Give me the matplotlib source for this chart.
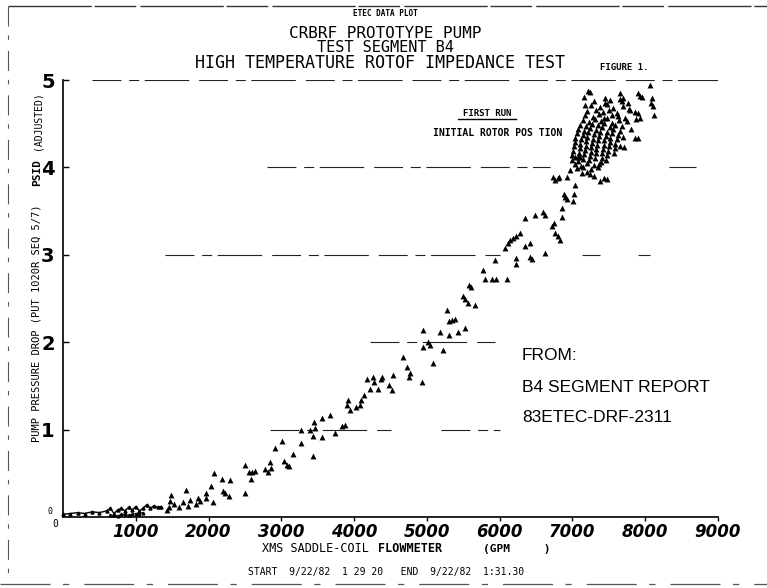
import matplotlib
matplotlib.use("Agg")
import matplotlib.pyplot as plt
from matplotlib.lines import Line2D
from matplotlib.transforms import ScaledTranslation

# ---- data -------------------------------------------------------------
# low-flow trace (GPM, PSID)
trace_flow = [0, 100, 200, 300, 400, 500, 600, 650, 700, 750, 800, 850, 900,
              950, 1000, 1050, 1100, 1150, 1200, 1250, 1300, 1350]
trace_dp = [0.03, 0.04, 0.05, 0.04, 0.06, 0.05, 0.07, 0.10, 0.04, 0.08, 0.10,
            0.07, 0.11, 0.08, 0.12, 0.07, 0.10, 0.14, 0.10, 0.13, 0.11, 0.12]
trace2_flow = [650, 700, 750, 800, 850, 900, 950, 1000, 1050, 1100]
trace2_dp = [0.02, 0.02, 0.01, 0.03, 0.03, 0.02, 0.03, 0.04, 0.04, 0.05]

# rising branch
rise_flow = [1430, 1450, 1470, 1490, 1520, 1600, 1650, 1690, 1720, 1750,
             1830, 1860, 1880, 1960, 1970, 2030, 2060, 2075, 2180, 2200,
             2230, 2280, 2290, 2500, 2500, 2560, 2580, 2600, 2640,
             2780, 2815, 2840, 2860, 2910, 3005, 3040, 3080, 3110, 3165,
             3270, 3270, 3400, 3430, 3440, 3450, 3460, 3560, 3560, 3670,
             3740, 3830, 3880, 3900, 3920, 3940, 4030, 4080, 4100, 4130,
             4180, 4220, 4260, 4270, 4330, 4370, 4480,
             4380, 4520, 4535, 4670, 4720, 4760, 4770, 4930, 4945, 4945,
             5010, 5040, 5080, 5180, 5220, 5270, 5300, 5310, 5340, 5380,
             5425, 5490, 5520, 5520, 5560, 5580, 5600, 5660, 5770, 5800,
             5900, 5935, 5950, 6070, 6100, 6110, 6140, 6180, 6220, 6230,
             6230, 6280, 6345, 6345, 6415, 6415, 6440, 6485, 6590, 6620,
             6620, 6715, 6740, 6760, 6800, 6830, 6855, 6855, 6880, 6900,
             6920, 7005, 7020, 7040, 6730, 6820, 6920, 6965, 7030, 7100,
             7240, 7300, 7380, 7430, 7470, 7200, 7130, 6760, 6800]
rise_dp = [0.08, 0.12, 0.18, 0.25, 0.15, 0.12, 0.17, 0.31, 0.13, 0.19,
           0.15, 0.22, 0.18, 0.22, 0.28, 0.36, 0.17, 0.50, 0.43, 0.30,
           0.27, 0.24, 0.42, 0.60, 0.28, 0.52, 0.44, 0.52, 0.53,
           0.55, 0.52, 0.63, 0.56, 0.79, 0.87, 0.64, 0.60, 0.58, 0.72,
           0.85, 1.00, 1.00, 0.93, 0.70, 1.09, 1.02, 1.13, 0.91, 1.17,
           0.96, 1.04, 1.05, 1.28, 1.34, 1.22, 1.26, 1.28, 1.34, 1.40,
           1.58, 1.46, 1.60, 1.54, 1.46, 1.58, 1.51,
           1.60, 1.45, 1.62, 1.83, 1.72, 1.60, 1.65, 1.55, 1.95, 2.14,
           2.00, 1.97, 1.76, 2.12, 1.91, 2.37, 2.24, 2.08, 2.25, 2.26,
           2.12, 2.53, 2.16, 2.50, 2.45, 2.66, 2.63, 2.43, 2.83, 2.72,
           2.72, 2.94, 2.72, 3.08, 2.72, 3.13, 3.17, 3.19, 2.90, 3.22,
           2.96, 3.25, 3.10, 3.42, 3.13, 2.98, 2.95, 3.45, 3.49, 3.45,
           3.02, 3.33, 3.36, 3.25, 3.21, 3.17, 3.43, 3.53, 3.70, 3.66,
           3.64, 3.62, 3.70, 3.80, 3.89, 3.89, 3.89, 3.97, 4.12, 4.12,
           3.92, 3.90, 3.84, 3.88, 3.87, 3.95, 3.94, 3.86, 3.88]

# dense cluster near full flow
top_flow = [7300, 7450, 7520, 7650, 7250, 7380, 7480, 7560, 7700,
            7200, 7330, 7420, 7500, 7610, 7780,
            7170, 7280, 7360, 7440, 7540, 7620, 7720,
            7150, 7230, 7310, 7390, 7470, 7550, 7640, 7750,
            7100, 7190, 7270, 7350, 7430, 7510, 7590, 7680,
            7080, 7160, 7240, 7320, 7400, 7480, 7560, 7660, 7800,
            7060, 7140, 7220, 7300, 7380, 7460, 7540, 7620,
            7040, 7120, 7200, 7280, 7360, 7440, 7520, 7610, 7700,
            7030, 7110, 7190, 7270, 7350, 7430, 7510, 7590,
            7020, 7100, 7180, 7260, 7340, 7420, 7500, 7580, 7660,
            7010, 7090, 7170, 7250, 7330, 7410, 7490, 7570,
            7000, 7080, 7160, 7240, 7320, 7400, 7480,
            6990, 7070, 7150, 7230, 7310, 7390, 7460,
            7040, 7120, 7200, 7290, 7370,
            7060, 7150, 7250, 7350,
            8060, 8090, 8080, 8100, 8120, 7900, 7930, 7950, 7650, 7690,
            7680, 7770, 7790, 7860, 7900, 7930, 7880, 7860, 7900, 7710,
            7445, 7210, 7240, 7160, 7170]
top_dp = [4.76, 4.74, 4.77, 4.78, 4.71, 4.69, 4.72, 4.68, 4.70,
          4.64, 4.66, 4.63, 4.66, 4.62, 4.67,
          4.60, 4.58, 4.61, 4.57, 4.60, 4.59, 4.56,
          4.54, 4.52, 4.55, 4.53, 4.56, 4.51, 4.54, 4.53,
          4.49, 4.47, 4.50, 4.48, 4.51, 4.46, 4.49, 4.47,
          4.44, 4.42, 4.45, 4.43, 4.46, 4.41, 4.44, 4.42, 4.44,
          4.39, 4.37, 4.40, 4.38, 4.41, 4.36, 4.39, 4.37,
          4.34, 4.32, 4.35, 4.33, 4.36, 4.31, 4.34, 4.32, 4.35,
          4.29, 4.27, 4.30, 4.28, 4.31, 4.26, 4.29, 4.27,
          4.24, 4.22, 4.25, 4.23, 4.26, 4.21, 4.24, 4.22, 4.25,
          4.19, 4.17, 4.20, 4.18, 4.21, 4.16, 4.19, 4.17,
          4.14, 4.12, 4.15, 4.13, 4.16, 4.11, 4.14,
          4.09, 4.07, 4.10, 4.08, 4.11, 4.06, 4.09,
          4.04, 4.02, 4.05, 4.03, 4.04,
          3.99, 4.00, 3.98, 4.01,
          4.94, 4.79, 4.74, 4.70, 4.60, 4.85, 4.82, 4.80, 4.85, 4.79,
          4.76, 4.74, 4.66, 4.63, 4.62, 4.57, 4.55, 4.34, 4.34, 4.23,
          4.79, 4.87, 4.86, 4.80, 4.71]

x_ticks = [1000, 2000, 3000, 4000, 5000, 6000, 7000, 8000, 9000]
y_ticks = [1, 2, 3, 4, 5]

# broken dashed reference lines: level and (start, end) span
ref_levels = [5, 4, 4, 3, 3, 3, 2, 1, 1]
ref_spans = [(400, 9000), (2800, 6690), (8320, 8700), (1400, 6000),
             (7130, 7380), (7900, 8060), (4220, 5930), (2840, 4500),
             (5200, 6000)]

# ---- figure -----------------------------------------------------------
W, H = 767, 588
fig = plt.figure(figsize=(W / 100, H / 100), dpi=100)
fig.patch.set_facecolor("white")

def fx(px):
    return px / W

def fy(py):
    return 1 - py / H

ax = fig.add_axes([fx(63), fy(517), fx(718) - fx(63), fy(80) - fy(517)])
ax.set_xlim(0, 9000)
ax.set_ylim(0, 5)
for s in ("top", "right"):
    ax.spines[s].set_visible(False)
for s in ("left", "bottom"):
    ax.spines[s].set_linewidth(1.3)
    ax.spines[s].set_color("#111111")

for lev, (a, b) in zip(ref_levels, ref_spans):
    ax.plot([a, b], [lev, lev], color="#222222", lw=0.8,
            ls=(0, (26, 7, 9, 5, 40, 9)), zorder=1)

ax.plot(trace_flow, trace_dp, color="black", lw=1.0, marker="^", ms=2.2,
        zorder=3, clip_on=False)
ax.plot(trace2_flow, trace2_dp, color="black", lw=0.8, marker="^", ms=2.0,
        zorder=3, clip_on=False)
ax.scatter(rise_flow, rise_dp, marker="^", s=18, color="black",
           linewidths=0, zorder=4, clip_on=False)
ax.scatter(top_flow, top_dp, marker="^", s=18, color="black",
           linewidths=0, zorder=4, clip_on=False)

ax.set_xticks(x_ticks)
ax.set_xticklabels([str(v) for v in x_ticks], fontsize=12,
                   fontstyle="italic", fontweight="bold",
                   family="DejaVu Sans")
off = ScaledTranslation(6 / 100, 0, fig.dpi_scale_trans)
for lbl in ax.get_xticklabels():
    lbl.set_transform(lbl.get_transform() + off)
ax.tick_params(axis="x", direction="out", length=3, width=1, pad=1.5)

ax.set_yticks(y_ticks)
ax.set_yticklabels([str(v) for v in y_ticks], fontsize=14,
                   fontweight="bold", family="DejaVu Sans")
ax.tick_params(axis="y", direction="in", length=4, width=1, pad=6)

mono = "DejaVu Sans Mono"
# origin marks
fig.text(fx(50), fy(512), "0", fontsize=6, family=mono, ha="center", va="center")
fig.text(fx(55), fy(524), "0", fontsize=7, family=mono, ha="center", va="center")

# headings
fig.text(fx(385), fy(14), "ETEC DATA PLOT", fontsize=5.5, family=mono,
         fontweight="bold", ha="center", va="center")
fig.text(fx(385), fy(33), "CRBRF PROTOTYPE PUMP", fontsize=11.5, family=mono,
         ha="center", va="center")
fig.text(fx(385), fy(48), "TEST SEGMENT B4", fontsize=11, family=mono,
         ha="center", va="center")
fig.text(fx(380), fy(63), "HIGH TEMPERATURE ROTOF IMPEDANCE TEST", fontsize=12,
         family=mono, ha="center", va="center")
fig.text(fx(600), fy(68), "FIGURE 1.", fontsize=6.5, family=mono,
         fontweight="bold", ha="left", va="center")

# annotations in plot area
fig.text(fx(487), fy(113), "FIRST RUN", fontsize=6.5, family=mono,
         fontweight="bold", ha="center", va="center")
fig.add_artist(Line2D([fx(458), fx(516)], [fy(119), fy(119)], color="black",
                      lw=1.0))
fig.text(fx(433), fy(133), "INITIAL ROTOR POS TION", fontsize=7, family=mono,
         fontweight="bold", ha="left", va="center")

src = ["Liberation Sans Narrow", "Liberation Sans", "DejaVu Sans"]
fig.text(fx(522), fy(356), "FROM:", fontsize=12.5, family=src,
         ha="left", va="center")
fig.text(fx(522), fy(388), "B4 SEGMENT REPORT", fontsize=12.5, family=src,
         ha="left", va="center")
fig.text(fx(522), fy(418), "83ETEC-DRF-2311", fontsize=12.5, family=src,
         ha="left", va="center")

# axis titles
fig.text(fx(37), fy(442), "PUMP PRESSURE DROP (PUT 1020R SEQ 5/7)", rotation=90,
         fontsize=7.5, family=mono, ha="center", va="bottom")
fig.text(fx(37), fy(186), "PSID", rotation=90, fontsize=8, family=mono,
         fontweight="bold", ha="center", va="bottom")
fig.text(fx(37), fy(150), "(ADJUSTED)", rotation=90, fontsize=7, family=mono,
         ha="center", va="bottom")

fig.text(fx(262), fy(549), "XMS SADDLE-COIL", fontsize=8.5, family=mono,
         ha="left", va="center")
fig.text(fx(378), fy(549), "FLOWMETER", fontsize=8.5, family=mono,
         fontweight="bold", ha="left", va="center")
fig.text(fx(483), fy(549), "(GPM     )", fontsize=8, family=mono,
         fontweight="bold", ha="left", va="center")
fig.text(fx(248), fy(572), "START  9/22/82  1 29 20   END  9/22/82  1:31.30",
         fontsize=7, family=mono, ha="left", va="center")

# page edges of the data sheet
fig.add_artist(Line2D([fx(8), fx(767)], [fy(6), fy(6)], color="#333333",
                      lw=1.0, ls=(0, (60, 2, 30, 3))))
fig.add_artist(Line2D([fx(8), fx(8)], [fy(6), fy(580)], color="#555555",
                      lw=0.8, ls=(0, (18, 8, 4, 10))))
fig.add_artist(Line2D([fx(0), fx(767)], [fy(584), fy(584)], color="#555555",
                      lw=0.9, ls=(0, (40, 10, 5, 12))))

fig.savefig("out.png", dpi=100, facecolor="white")
